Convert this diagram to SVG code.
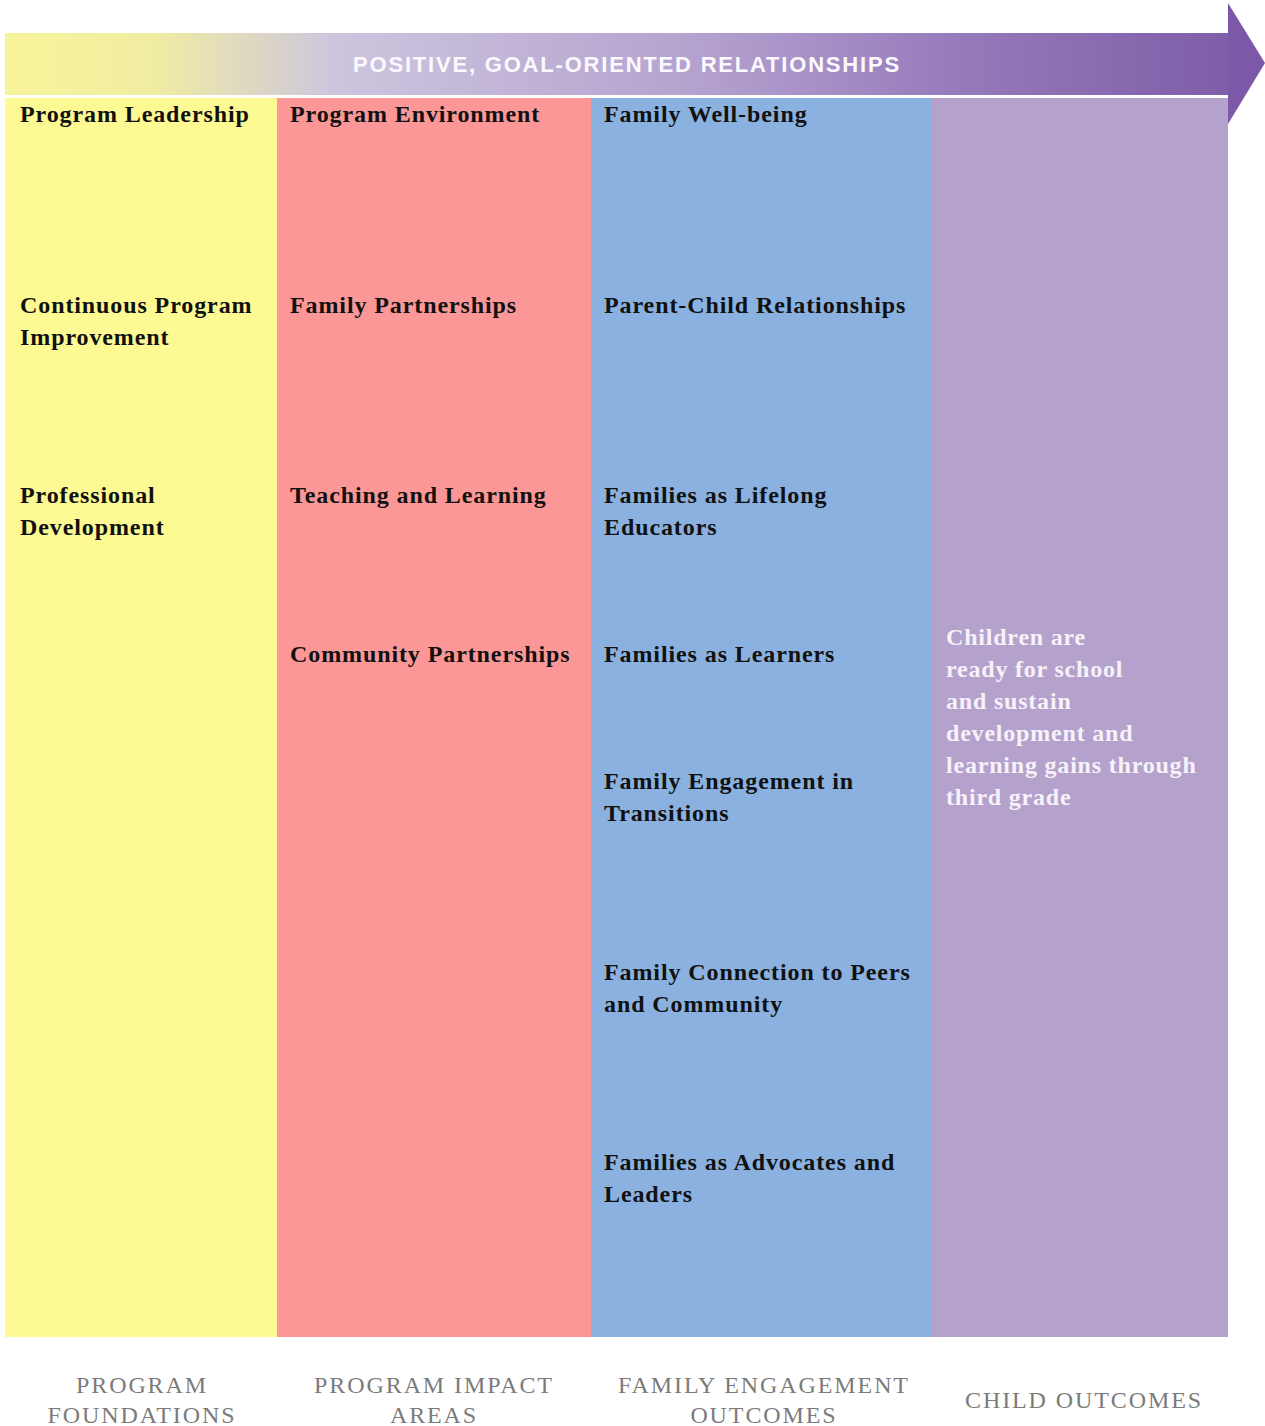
<svg xmlns="http://www.w3.org/2000/svg" width="1265" height="1426" viewBox="0 0 1265 1426">
<defs>
<linearGradient id="band" x1="0" y1="0" x2="1" y2="0">
<stop offset="0" stop-color="#f8f49a"/>
<stop offset="0.12" stop-color="#f0eda2"/>
<stop offset="0.27" stop-color="#cdc5de"/>
<stop offset="0.55" stop-color="#b6a4d0"/>
<stop offset="0.8" stop-color="#9377b9"/>
<stop offset="1" stop-color="#7f5ea8"/>
</linearGradient>
<style>
.h{font-family:"Liberation Serif","Times New Roman",serif;font-weight:bold;font-size:24px;fill:#111;letter-spacing:0.9px}
.w{font-family:"Liberation Serif","Times New Roman",serif;font-weight:bold;font-size:24px;fill:#f6f2fa;letter-spacing:0.8px}
.f{font-family:"Liberation Serif","Times New Roman",serif;font-size:24px;fill:#7b7b7b;text-anchor:middle;letter-spacing:1.9px}
.t{font-family:"Liberation Sans",Arial,sans-serif;font-weight:bold;font-size:22px;fill:#fbf9fd;letter-spacing:1.8px}
</style>
</defs>
<rect x="0" y="0" width="1265" height="1426" fill="#ffffff"/>
<g id="banner">
<rect x="5" y="33" width="1224" height="62" fill="url(#band)"/>
<polygon points="1228,3 1265,63 1228,124" fill="#7d58a8"/>
<text class="t" x="627" y="72" text-anchor="middle">POSITIVE, GOAL-ORIENTED RELATIONSHIPS</text>
</g>
<g id="col-foundations">
<rect x="5" y="98" width="272" height="1239" fill="#fdfa93"/>
<text class="h" x="20" y="122">Program Leadership</text>
<text class="h" x="20" y="313">Continuous Program</text>
<text class="h" x="20" y="345">Improvement</text>
<text class="h" x="20" y="503">Professional</text>
<text class="h" x="20" y="535">Development</text>
</g>
<g id="col-impact">
<rect x="277" y="98" width="314" height="1239" fill="#fc9797"/>
<text class="h" x="290" y="122">Program Environment</text>
<text class="h" x="290" y="313">Family Partnerships</text>
<text class="h" x="290" y="503">Teaching and Learning</text>
<text class="h" x="290" y="662">Community Partnerships</text>
</g>
<g id="col-family">
<rect x="591" y="98" width="341" height="1239" fill="#8ab1e0"/>
<text class="h" x="604" y="122">Family Well-being</text>
<text class="h" x="604" y="313">Parent-Child Relationships</text>
<text class="h" x="604" y="503">Families as Lifelong</text>
<text class="h" x="604" y="535">Educators</text>
<text class="h" x="604" y="662">Families as Learners</text>
<text class="h" x="604" y="789">Family Engagement in</text>
<text class="h" x="604" y="821">Transitions</text>
<text class="h" x="604" y="980">Family Connection to Peers</text>
<text class="h" x="604" y="1012">and Community</text>
<text class="h" x="604" y="1170">Families as Advocates and</text>
<text class="h" x="604" y="1202">Leaders</text>
</g>
<g id="col-child">
<rect x="932" y="98" width="296" height="1239" fill="#b4a1cc"/>
<text class="w" x="946" y="645">Children are</text>
<text class="w" x="946" y="677">ready for school</text>
<text class="w" x="946" y="709">and sustain</text>
<text class="w" x="946" y="741">development and</text>
<text class="w" x="946" y="773">learning gains through</text>
<text class="w" x="946" y="805">third grade</text>
</g>
<g id="footer">
<text class="f" x="142" y="1393">PROGRAM</text>
<text class="f" x="142" y="1423">FOUNDATIONS</text>
<text class="f" x="434" y="1393">PROGRAM IMPACT</text>
<text class="f" x="434" y="1423">AREAS</text>
<text class="f" x="764" y="1393">FAMILY ENGAGEMENT</text>
<text class="f" x="764" y="1423">OUTCOMES</text>
<text class="f" x="1084" y="1408">CHILD OUTCOMES</text>
</g>
<g id="connectors"></g>
</svg>
